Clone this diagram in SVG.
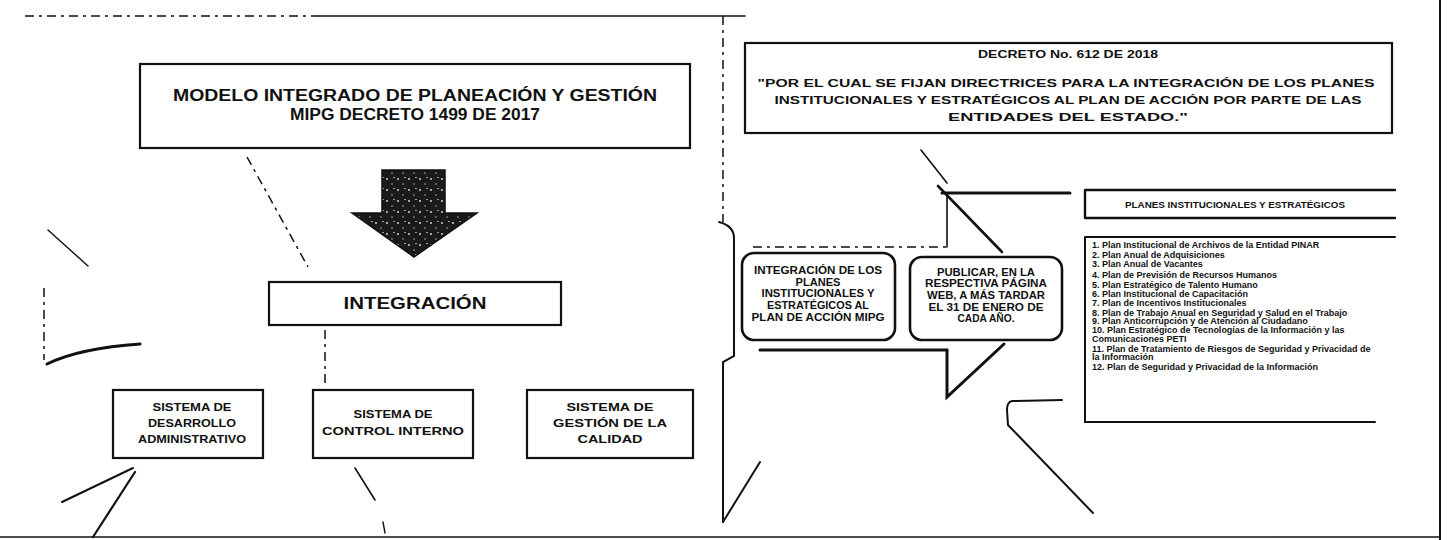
<svg xmlns="http://www.w3.org/2000/svg" width="1451" height="540" viewBox="0 0 1451 540">
<style>
.bx{fill:#fff;stroke:#111;stroke-width:2.2}
.rb{fill:#fff;stroke:#111;stroke-width:2.6}
.t{font-family:"Liberation Sans",Arial,sans-serif;font-weight:bold;fill:#111;text-anchor:middle}
.l{font-family:"Liberation Sans",Arial,sans-serif;font-weight:bold;fill:#111;font-size:9px}
.ln{fill:none;stroke:#111;stroke-linecap:round}
.ds{fill:none;stroke:#111;stroke-width:1.5;stroke-dasharray:9 5 3 5}
</style>
<defs>
<pattern id="spk" width="11" height="11" patternUnits="userSpaceOnUse">
<rect width="11" height="11" fill="#1a1a1a"/>
<circle cx="2" cy="3" r="0.9" fill="#e6e6e6"/>
<circle cx="7" cy="8" r="0.7" fill="#cfcfcf"/>
<rect x="8" y="1" width="2" height="0.8" fill="#bbb"/>
</pattern>
</defs>
<rect width="1451" height="540" fill="#fff"/>

<g id="page-frame">
<path class="ds" d="M25 16 L320 16"/>
<path class="ln" stroke-width="1.6" d="M320 16 L745 16"/>
<path class="ds" d="M723 16 L723 222"/>
<path class="ln" stroke-width="2" d="M1440 0 L1440 540"/>
<path class="ln" stroke="#444" stroke-width="1.4" d="M0 537 L1440 537"/>
</g>

<g id="connectors">
<path class="ds" d="M247 157 L308 267"/>
<path class="ds" d="M325 330 L325 388"/>
</g>

<g id="marks">
<path class="ln" stroke-width="1.4" d="M48 230 L88 266"/>
<path class="ds" d="M44 288 L44 360"/>
<path class="ln" stroke-width="3" d="M47 364 Q80 348 140 344"/>
<path class="ln" stroke-width="2" d="M133 468 L62 502"/>
<path class="ln" stroke-width="2.2" d="M135 472 L93 537"/>
<path class="ln" stroke-width="1.6" d="M355 468 L375 500"/>
<path class="ln" stroke-width="1.4" d="M383 522 L385 533"/>
<path class="ln" stroke-width="1.6" d="M921 150 L947 183"/>
<path class="ln" stroke-width="2" d="M1062 400 L1012 401 Q1007 402 1007 410 L1008 425 L1093 513"/>
<path class="ln" stroke-width="2" d="M723 522 L760 462"/>
</g>

<g id="arrow-down">
<polygon points="382,170 445,170 445,213 477,213 414,257 352,213 382,213" fill="url(#spk)" stroke="#111" stroke-width="1.5"/>
</g>

<g id="arrow-right">
<path class="ln" stroke-width="2" d="M719 222 Q734 226 734 238 L734 356 L723 362 L723 522"/>
<path class="ds" d="M753 247 L947 247"/>
<path class="ln" stroke-width="1.6" d="M947 247 L947 193"/>
<path class="ln" stroke-width="3" d="M942 193 L1070 193"/>
<path class="ln" stroke-width="2.6" d="M938 186 L1002 252"/>
<path class="ln" stroke-width="3" d="M760 350 L947 350"/>
<path class="ln" stroke-width="3" d="M947 350 L947 397 L1004 344"/>
</g>

<g id="node-mipg">
<rect class="bx" x="140" y="64" width="550" height="84"/>
<text class="t" x="415" y="101" font-size="16" textLength="484" lengthAdjust="spacingAndGlyphs">MODELO INTEGRADO DE PLANEACIÓN Y GESTIÓN</text>
<text class="t" x="415" y="120" font-size="16" textLength="250" lengthAdjust="spacingAndGlyphs">MIPG DECRETO 1499 DE 2017</text>
</g>

<g id="node-integracion">
<rect class="bx" x="269" y="282" width="292" height="43"/>
<text class="t" x="415" y="309" font-size="16" textLength="143" lengthAdjust="spacingAndGlyphs">INTEGRACIÓN</text>
</g>

<g id="node-sda">
<rect class="bx" x="113" y="390" width="150" height="68"/>
<text class="t" x="192" y="411" font-size="10" textLength="79" lengthAdjust="spacingAndGlyphs">SISTEMA DE</text>
<text class="t" x="192" y="427" font-size="10" textLength="88" lengthAdjust="spacingAndGlyphs">DESARROLLO</text>
<text class="t" x="192" y="443" font-size="10" textLength="108" lengthAdjust="spacingAndGlyphs">ADMINISTRATIVO</text>
</g>

<g id="node-sci">
<rect class="bx" x="313" y="390" width="160" height="68"/>
<text class="t" x="393" y="418" font-size="10" textLength="79" lengthAdjust="spacingAndGlyphs">SISTEMA DE</text>
<text class="t" x="393" y="435" font-size="10" textLength="142" lengthAdjust="spacingAndGlyphs">CONTROL INTERNO</text>
</g>

<g id="node-sgc">
<rect class="bx" x="527" y="390" width="166" height="68"/>
<text class="t" x="610" y="411" font-size="10" textLength="87" lengthAdjust="spacingAndGlyphs">SISTEMA DE</text>
<text class="t" x="610" y="427" font-size="10" textLength="114" lengthAdjust="spacingAndGlyphs">GESTIÓN DE LA</text>
<text class="t" x="610" y="443" font-size="10" textLength="65" lengthAdjust="spacingAndGlyphs">CALIDAD</text>
</g>

<g id="node-decreto">
<rect class="bx" x="745" y="43" width="647" height="90"/>
<text class="t" x="1068" y="58" font-size="10" textLength="180" lengthAdjust="spacingAndGlyphs">DECRETO  No. 612 DE 2018</text>
<text class="t" x="1066" y="87" font-size="10" textLength="617" lengthAdjust="spacingAndGlyphs">"POR EL CUAL SE FIJAN DIRECTRICES PARA LA INTEGRACIÓN DE LOS PLANES</text>
<text class="t" x="1068" y="104" font-size="10" textLength="587" lengthAdjust="spacingAndGlyphs">INSTITUCIONALES Y ESTRATÉGICOS AL PLAN DE ACCIÓN POR PARTE DE LAS</text>
<text class="t" x="1068" y="121" font-size="10" textLength="240" lengthAdjust="spacingAndGlyphs">ENTIDADES DEL ESTADO."</text>
</g>

<g id="node-integracion-planes">
<rect class="rb" x="742" y="253" width="153" height="87" rx="12"/>
<text class="t" x="818" y="274" font-size="10" textLength="128" lengthAdjust="spacingAndGlyphs">INTEGRACIÓN DE LOS</text>
<text class="t" x="818" y="286" font-size="10" textLength="45" lengthAdjust="spacingAndGlyphs">PLANES</text>
<text class="t" x="818" y="297" font-size="10" textLength="113" lengthAdjust="spacingAndGlyphs">INSTITUCIONALES Y</text>
<text class="t" x="818" y="309" font-size="10" textLength="102" lengthAdjust="spacingAndGlyphs">ESTRATÉGICOS AL</text>
<text class="t" x="818" y="321" font-size="10" textLength="133" lengthAdjust="spacingAndGlyphs">PLAN DE ACCIÓN MIPG</text>
</g>

<g id="node-publicar">
<rect class="rb" x="910" y="257" width="152" height="83" rx="12"/>
<text class="t" x="986" y="276" font-size="10" textLength="98" lengthAdjust="spacingAndGlyphs">PUBLICAR, EN LA</text>
<text class="t" x="986" y="287" font-size="10" textLength="122" lengthAdjust="spacingAndGlyphs">RESPECTIVA PÁGINA</text>
<text class="t" x="986" y="299" font-size="10" textLength="118" lengthAdjust="spacingAndGlyphs">WEB, A MÁS TARDAR</text>
<text class="t" x="986" y="311" font-size="10" textLength="115" lengthAdjust="spacingAndGlyphs">EL 31 DE ENERO DE</text>
<text class="t" x="986" y="322" font-size="10" textLength="57" lengthAdjust="spacingAndGlyphs">CADA AÑO.</text>
</g>

<g id="node-planes-header">
<path class="ln" stroke-width="2.4" d="M1085 190 L1395 190 M1085 218 L1395 218 M1085 190 L1085 218"/>
<text class="t" x="1235" y="208" font-size="9" textLength="220" lengthAdjust="spacingAndGlyphs">PLANES INSTITUCIONALES Y ESTRATÉGICOS</text>
</g>

<g id="node-planes-list">
<path class="ln" stroke-width="2" d="M1085 237 L1395 237 M1085 237 L1085 422 L1375 422"/>
<text class="l" x="1092" y="248">1. Plan Institucional de Archivos de la Entidad PINAR</text>
<text class="l" x="1092" y="258">2. Plan Anual de Adquisiciones</text>
<text class="l" x="1092" y="267">3. Plan Anual de Vacantes</text>
<text class="l" x="1092" y="278">4. Plan de Previsión de Recursos Humanos</text>
<text class="l" x="1092" y="288">5. Plan Estratégico de Talento Humano</text>
<text class="l" x="1092" y="297">6. Plan Institucional de Capacitación</text>
<text class="l" x="1092" y="306">7. Plan de Incentivos Institucionales</text>
<text class="l" x="1092" y="316">8. Plan de Trabajo Anual en Seguridad y Salud en el Trabajo</text>
<text class="l" x="1092" y="324">9. Plan Anticorrupción y de Atención al Ciudadano</text>
<text class="l" x="1092" y="333">10. Plan Estratégico de Tecnologías de la Información y las</text>
<text class="l" x="1092" y="342">Comunicaciones  PETI</text>
<text class="l" x="1092" y="352">11. Plan de Tratamiento de Riesgos de Seguridad y Privacidad de</text>
<text class="l" x="1092" y="360">la Información</text>
<text class="l" x="1092" y="370">12. Plan de Seguridad y Privacidad de la Información</text>
</g>
</svg>
